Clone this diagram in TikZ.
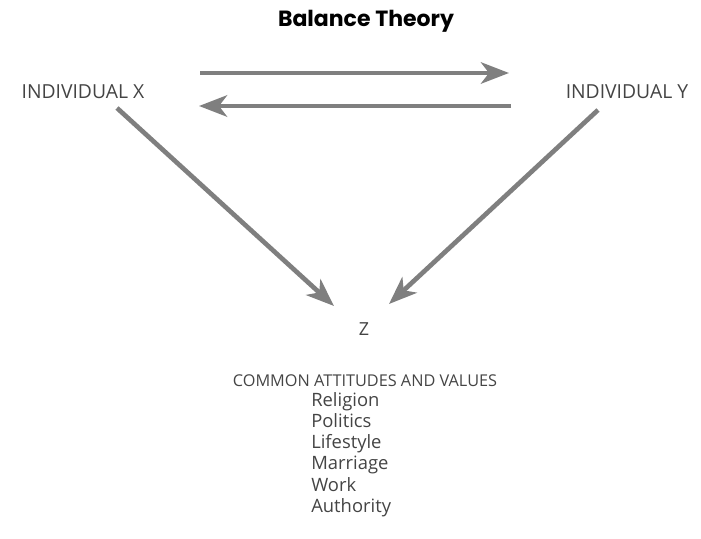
\documentclass[tikz,border=0pt]{standalone}
\usepackage{fontspec}
\setmainfont{Open Sans}
\newfontfamily\titlefont{Poppins}
\usetikzlibrary{arrows.meta}
\definecolor{arrowgray}{HTML}{7F7F7F}
\definecolor{textgray}{HTML}{444444}
\begin{document}
\begin{tikzpicture}[x=0.75pt,y=-0.75pt,
  lbl/.style={text=textgray,inner sep=0pt},
  conn/.style={draw=arrowgray,line width=3.5pt,-{Stealth[length=21pt,width=16pt,inset=6pt]}}]
\useasboundingbox (0,0) rectangle (701,539);
\node[font=\titlefont\bfseries\fontsize{16.5}{18}\selectfont,inner sep=0pt] (title) at (366,21) {Balance Theory};
\node[lbl,font=\fontsize{14.5}{16}\selectfont] (x) at (83,92) {INDIVIDUAL X};
\node[lbl,font=\fontsize{14.5}{16}\selectfont] (y) at (627,92) {INDIVIDUAL Y};
\node[lbl,font=\fontsize{13.5}{16}\selectfont] (z) at (364,329) {Z};
\node[lbl,font=\fontsize{12.2}{14}\selectfont] (common) at (365,381) {COMMON ATTITUDES AND VALUES};
\node[lbl,anchor=north west,align=left,font=\fontsize{13.8}{15.9}\selectfont] (list) at (311,392)
  {Religion\\Politics\\Lifestyle\\Marriage\\Work\\Authority};
\coordinate (a1) at (200,73);
\coordinate (a2) at (509,73);
\coordinate (b1) at (511,106);
\coordinate (b2) at (199,106);
\coordinate (c1) at (117,108);
\coordinate (c2) at (334,306);
\coordinate (d1) at (598,110);
\coordinate (d2) at (389,304);
\draw[conn] (a1) -- (a2);
\draw[conn] (b1) -- (b2);
\draw[conn] (c1) -- (c2);
\draw[conn] (d1) -- (d2);
\end{tikzpicture}
\end{document}
